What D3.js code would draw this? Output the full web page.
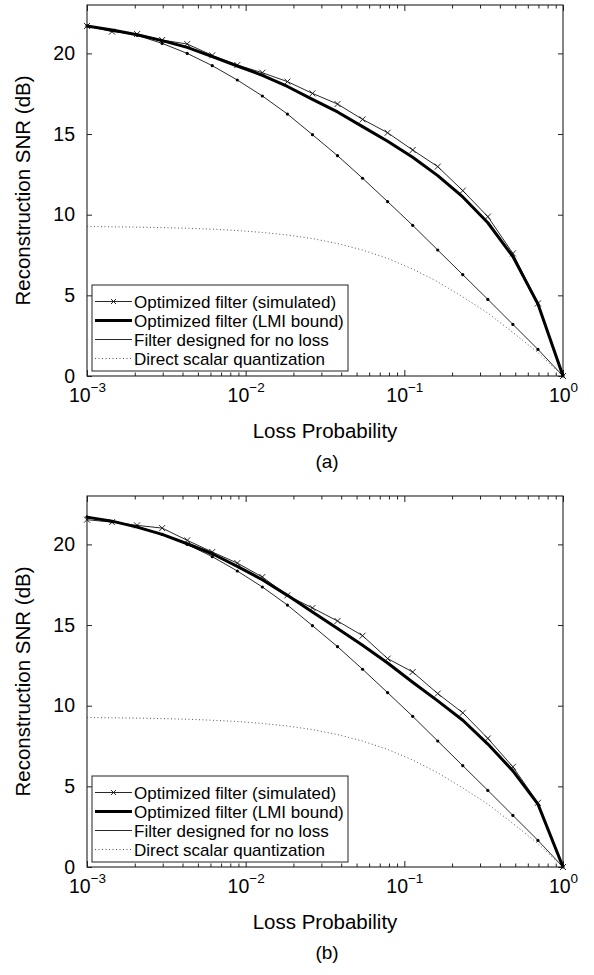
<!DOCTYPE html>
<html><head><meta charset="utf-8">
<script src="https://cdn.jsdelivr.net/npm/d3@7"></script>
<style>
body{margin:0;background:#fff}
text{font-family:"Liberation Sans", Arial, Helvetica, sans-serif; fill:#000}
</style>
</head><body><svg id="c" width="594" height="975"></svg>
<script>
// Loss probability sample points (20 log-spaced points from 1e-3 to 1)
const lossProb = [0.001, 0.001438, 0.002069, 0.002976, 0.004281, 0.006158, 0.008859, 0.012743, 0.01833, 0.026367,
                  0.037927, 0.054556, 0.078476, 0.112884, 0.162378, 0.233572, 0.335982, 0.483293, 0.695193, 1.0];
// Panel (a)
const simA = [21.7, 21.35, 21.2, 20.83, 20.58, 19.88, 19.28, 18.8, 18.25, 17.52,
              16.86, 15.91, 15.08, 14.01, 12.98, 11.49, 9.88, 7.6, 4.5, 0];
const lmiA = [21.7, 21.45, 21.16, 20.79, 20.37, 19.8, 19.22, 18.64, 17.95, 17.15,
              16.37, 15.46, 14.55, 13.56, 12.42, 11.1, 9.5, 7.4, 4.46, 0];
// Panel (b)
const simB = [21.53, 21.38, 21.18, 21.01, 20.25, 19.53, 18.84, 17.98, 16.84, 16.06,
              15.25, 14.34, 12.92, 12.09, 10.75, 9.56, 7.97, 6.21, 3.98, 0];
const lmiB = [21.69, 21.44, 21.07, 20.62, 20.04, 19.42, 18.64, 17.81, 16.84, 15.81,
              14.78, 13.75, 12.65, 11.45, 10.3, 9.1, 7.62, 5.96, 3.9, 0];
// Shared curves
const noLoss = [21.7, 21.41, 21.12, 20.62, 20.0, 19.24, 18.35, 17.36, 16.24, 14.96,
                13.66, 12.26, 10.81, 9.34, 7.81, 6.28, 4.75, 3.2, 1.65, 0];
const directQ = [9.27, 9.25, 9.23, 9.2, 9.16, 9.1, 9.02, 8.9, 8.74, 8.52,
                 8.21, 7.81, 7.29, 6.63, 5.84, 4.9, 3.9, 2.7, 1.45, 0];

const yTicks = [0, 5, 10, 15, 20];
const xMajorExps = [-3, -2, -1, 0];
const legendLabels = ["Optimized filter (simulated)", "Optimized filter (LMI bound)",
                      "Filter designed for no loss", "Direct scalar quantization"];
const panelLabels = ["(a)", "(b)"];
const xLabel = "Loss Probability";
const yLabel = "Reconstruction SNR (dB)";

const panels = [
  {sim: simA, lmi: lmiA, label: panelLabels[0], top: 5},
  {sim: simB, lmi: lmiB, label: panelLabels[1], top: 496}
];

const svg = d3.select("#c");
const L = 87, R = 563, H = 371;
const x = d3.scaleLog().domain([1e-3, 1]).range([L, R]);
const FF = '"Liberation Sans", Arial, sans-serif';

panels.forEach(p => {
  const T = p.top, B = T + H;
  const y = d3.scaleLinear().domain([0, 23]).range([B, T]);
  const g = svg.append("g");

  const majors = xMajorExps.map(e => Math.pow(10, e));
  const minors = x.ticks().filter(v => Math.abs(Math.log10(v) - Math.round(Math.log10(v))) > 1e-6);

  const ax = (gen, tr) => {
    const a = g.append("g").attr("transform", tr).call(gen);
    a.select(".domain").remove();
    a.selectAll("line").attr("stroke", "#222").attr("stroke-width", 1);
    return a;
  };
  ax(d3.axisBottom(x).tickValues(minors).tickSizeInner(-3.5).tickSizeOuter(0).tickFormat(""), `translate(0,${B})`);
  ax(d3.axisTop(x).tickValues(minors).tickSizeInner(-3.5).tickSizeOuter(0).tickFormat(""), `translate(0,${T})`);
  ax(d3.axisTop(x).tickValues(majors).tickSizeInner(-6).tickSizeOuter(0).tickFormat(""), `translate(0,${T})`);
  const xb = ax(d3.axisBottom(x).tickValues(majors).tickSizeInner(-6).tickSizeOuter(0).tickPadding(16), `translate(0,${B})`);
  xb.selectAll(".tick text").each(function(d) {
    const t = d3.select(this);
    t.text(null).attr("font-size", 19.5).attr("font-family", FF)
      .attr("dy", null).attr("y", 26).attr("fill", "#000");
    t.append("tspan").text("10");
    t.append("tspan").attr("dy", -10).attr("font-size", 13.5).text(String(Math.round(Math.log10(d))).replace("-", "\u2212"));
  });
  const yl = ax(d3.axisLeft(y).tickValues(yTicks).tickSizeInner(-5).tickSizeOuter(0).tickPadding(12), `translate(${L},0)`);
  yl.selectAll(".tick text").attr("font-size", 19.5).attr("font-family", FF).attr("fill", "#000");
  ax(d3.axisRight(y).tickValues(yTicks).tickSizeInner(-5).tickSizeOuter(0).tickFormat(""), `translate(${R},0)`);

  g.append("rect").attr("x", L).attr("y", T).attr("width", R - L).attr("height", H)
    .attr("fill", "none").attr("stroke", "#222").attr("stroke-width", 1.1);

  const line = d3.line().x((d, i) => x(lossProb[i])).y(d => y(d));

  g.append("path").attr("d", line(directQ)).attr("fill", "none")
    .attr("stroke", "#555").attr("stroke-width", 1).attr("stroke-dasharray", "1,2.5");
  g.append("path").attr("d", line(noLoss)).attr("fill", "none").attr("stroke", "#111").attr("stroke-width", 0.9);
  g.selectAll(".nl").data(noLoss).enter().append("circle")
    .attr("cx", (d, i) => x(lossProb[i])).attr("cy", d => y(d)).attr("r", 1.6).attr("fill", "#000");
  g.append("path").attr("d", line(p.sim)).attr("fill", "none").attr("stroke", "#111").attr("stroke-width", 0.9);
  g.selectAll(".sm").data(p.sim).enter().append("path")
    .attr("transform", (d, i) => `translate(${x(lossProb[i])},${y(d)})`)
    .attr("d", "M-3,-3L3,3M-3,3L3,-3").attr("stroke", "#111").attr("stroke-width", 0.9);
  g.append("path").attr("d", line(p.lmi)).attr("fill", "none").attr("stroke", "#000")
    .attr("stroke-width", 3).attr("stroke-linejoin", "round");

  const lx = 92, ly = T + 280, lw = 256, lh = 86;
  const lg = g.append("g");
  lg.append("rect").attr("x", lx).attr("y", ly).attr("width", lw).attr("height", lh)
    .attr("fill", "#fff").attr("stroke", "#222").attr("stroke-width", 1);
  const styles = [
    {w: 0.9, dash: null, c: "#111", marker: true},
    {w: 3, dash: null, c: "#000"},
    {w: 0.9, dash: null, c: "#111"},
    {w: 1, dash: "1,2.5", c: "#555"}
  ];
  legendLabels.forEach((lab, i) => {
    const cy = ly + 16.5 + i * 19;
    const s = styles[i];
    lg.append("line").attr("x1", lx + 3).attr("x2", lx + 40).attr("y1", cy).attr("y2", cy)
      .attr("stroke", s.c).attr("stroke-width", s.w).attr("stroke-dasharray", s.dash);
    if (s.marker) lg.append("path").attr("transform", `translate(${lx + 21.5},${cy})`)
      .attr("d", "M-2.5,-2.5L2.5,2.5M-2.5,2.5L2.5,-2.5").attr("stroke", "#111").attr("stroke-width", 0.9);
    lg.append("text").attr("x", lx + 42).attr("y", cy + 6).attr("font-size", 17).text(lab);
  });

  g.append("text").attr("x", (L + R) / 2).attr("y", B + 62).attr("text-anchor", "middle")
    .attr("font-size", 20.5).text(xLabel);
  g.append("text").attr("transform", `translate(30,${(T + B) / 2}) rotate(-90)`)
    .attr("text-anchor", "middle").attr("font-size", 20.5).text(yLabel);
  g.append("text").attr("x", (L + R) / 2 + 2).attr("y", B + 92).attr("text-anchor", "middle")
    .attr("font-size", 19).text(p.label);
});
</script>
</body></html>
